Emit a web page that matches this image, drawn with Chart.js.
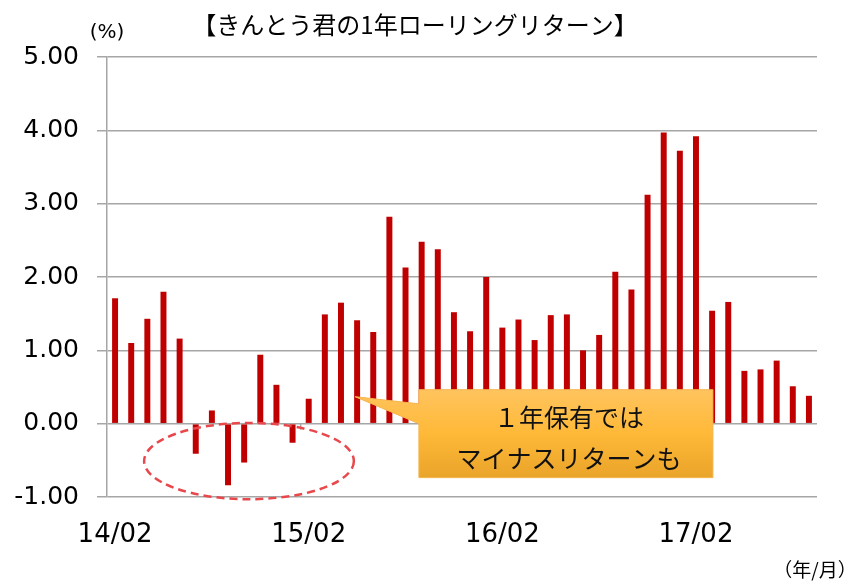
<!DOCTYPE html>
<html>
<head>
<meta charset="utf-8">
<script src="https://cdn.jsdelivr.net/npm/chart.js@4"></script>
<style>
  html, body { margin: 0; padding: 0; background: #ffffff; }
  #wrap { position: relative; width: 853px; height: 581px; }
</style>
</head>
<body>
<div id="wrap"><canvas id="c" width="853" height="581"></canvas></div>
<script>
// ---- data ----
const categories = [
  '14/02','14/03','14/04','14/05','14/06','14/07','14/08','14/09','14/10','14/11','14/12','15/01',
  '15/02','15/03','15/04','15/05','15/06','15/07','15/08','15/09','15/10','15/11','15/12','16/01',
  '16/02','16/03','16/04','16/05','16/06','16/07','16/08','16/09','16/10','16/11','16/12','17/01',
  '17/02','17/03','17/04','17/05','17/06','17/07','17/08','17/09'
];
const rollingReturn = [
  1.71, 1.10, 1.43, 1.80, 1.16, -0.41, 0.18, -0.84, -0.53, 0.94, 0.53, -0.26,
  0.34, 1.49, 1.65, 1.41, 1.25, 2.82, 2.13, 2.48, 2.38, 1.52, 1.26, 2.00,
  1.31, 1.42, 1.14, 1.48, 1.49, 1.00, 1.21, 2.07, 1.83, 3.12, 3.97, 3.72,
  3.92, 1.54, 1.66, 0.72, 0.74, 0.86, 0.51, 0.38
];
const shownTickLabels = ['14/02', '15/02', '16/02', '17/02'];
const yTickValues = [-1, 0, 1, 2, 3, 4, 5];
const titleText = '【きんとう君の1年ローリングリターン】';
const unitY = '(%)';
const unitX = '（年/月）';
const calloutLines = ['１年保有では', 'マイナスリターンも'];

const GRID = '#a6a6a6';
const TICK_FONT = { family: 'DejaVu Sans', size: 25 };

const annotations = {
  id: 'annotations',
  afterDatasetsDraw(chart) {
    const ctx = chart.ctx;
    const x = chart.scales.x, y = chart.scales.y;
    ctx.save();

    // small tick marks on the zero line at year boundaries
    const y0 = y.getPixelForValue(0);
    ctx.strokeStyle = GRID;
    ctx.lineWidth = 1.5;
    for (let i = 12; i < categories.length; i += 12) {
      const px = x.getPixelForValue(i - 0.5);
      ctx.beginPath();
      ctx.moveTo(px, y0);
      ctx.lineTo(px, y0 + 6);
      ctx.stroke();
    }

    // dashed ellipse around negative returns
    const cx = x.getPixelForValue(8.3);
    const cy = y.getPixelForValue(-0.51);
    const rx = x.getPixelForValue(14.8) - cx;
    const ry = y.getPixelForValue(-1.03) - cy;
    ctx.beginPath();
    ctx.setLineDash([8, 5]);
    ctx.strokeStyle = '#e8474b';
    ctx.lineWidth = 2.5;
    ctx.ellipse(cx, cy, rx, ry, 0, 0, Math.PI * 2);
    ctx.stroke();
    ctx.setLineDash([]);

    // callout box
    const bx0 = x.getPixelForValue(18.83), bx1 = x.getPixelForValue(37.05);
    const by0 = y.getPixelForValue(0.463), by1 = y.getPixelForValue(-0.736);
    const tipX = x.getPixelForValue(14.87), tipY = y.getPixelForValue(0.368);
    const baseTop = y.getPixelForValue(0.27), baseBot = y.getPixelForValue(0.0);
    const grad = ctx.createLinearGradient(0, by0, 0, by1);
    grad.addColorStop(0, '#ffc45e');
    grad.addColorStop(0.5, '#ffb938');
    grad.addColorStop(1, '#e9a42a');
    ctx.fillStyle = grad;
    ctx.beginPath();
    ctx.moveTo(bx0, by0);
    ctx.lineTo(bx1, by0);
    ctx.lineTo(bx1, by1);
    ctx.lineTo(bx0, by1);
    ctx.lineTo(bx0, baseBot);
    ctx.lineTo(tipX, tipY);
    ctx.lineTo(bx0, baseTop);
    ctx.closePath();
    ctx.fill();
    ctx.strokeStyle = '#f6b44c';
    ctx.lineWidth = 1;
    ctx.stroke();

    ctx.fillStyle = '#111111';
    ctx.font = '25px "Noto Sans CJK JP"';
    ctx.textAlign = 'center';
    ctx.textBaseline = 'middle';
    const mid = (bx0 + bx1) / 2 + 3;
    ctx.fillText(calloutLines[0], mid, by0 + 28);
    ctx.fillText(calloutLines[1], mid, by0 + 69);

    ctx.restore();
  },
  afterDraw(chart) {
    const ctx = chart.ctx;
    const a = chart.chartArea;
    ctx.save();
    ctx.fillStyle = '#000000';
    ctx.textBaseline = 'middle';
    ctx.textAlign = 'center';
    ctx.font = '24px "Noto Sans CJK JP"';
    ctx.fillText(titleText, 415, 25);
    ctx.font = '20px "DejaVu Sans"';
    ctx.fillText(unitY, a.left, 33);
    ctx.font = '19px "Noto Sans CJK JP"';
    ctx.fillText(unitX, a.right - 2, 570);
    ctx.restore();
  }
};

new Chart(document.getElementById('c'), {
  type: 'bar',
  data: {
    labels: categories,
    datasets: [{
      data: rollingReturn,
      backgroundColor: '#c00000',
      borderWidth: 0,
      categoryPercentage: 1.0,
      barPercentage: 0.37
    }]
  },
  options: {
    responsive: false,
    animation: false,
    devicePixelRatio: 1,
    layout: { padding: { top: 57, right: 36, left: 0, bottom: 0 } },
    plugins: { legend: { display: false }, tooltip: { enabled: false }, title: { display: false } },
    scales: {
      x: {
        offset: true,
        grid: { display: false, drawTicks: false, tickLength: 0 },
        border: { display: false },
        ticks: {
          autoSkip: false,
          maxRotation: 0,
          minRotation: 0,
          padding: 23,
          color: '#000000',
          font: { family: 'DejaVu Sans', size: 26 },
          callback: function (v, i) {
            const lab = categories[i];
            return shownTickLabels.includes(lab) ? lab : '';
          }
        },
        afterFit: function (s) { s.height = 84; }
      },
      y: {
        min: yTickValues[0],
        max: yTickValues[yTickValues.length - 1],
        afterBuildTicks: function (s) { s.ticks = yTickValues.map(v => ({ value: v })); },
        grid: { color: GRID, lineWidth: 1.5, tickLength: 10, drawTicks: true },
        border: { display: true, color: GRID, width: 1.5 },
        ticks: {
          padding: 18,
          color: '#000000',
          font: TICK_FONT,
          callback: function (v) { return Number(v).toFixed(2); }
        },
        afterFit: function (s) { s.width = 107; }
      }
    }
  },
  plugins: [annotations]
});
</script>
</body>
</html>
